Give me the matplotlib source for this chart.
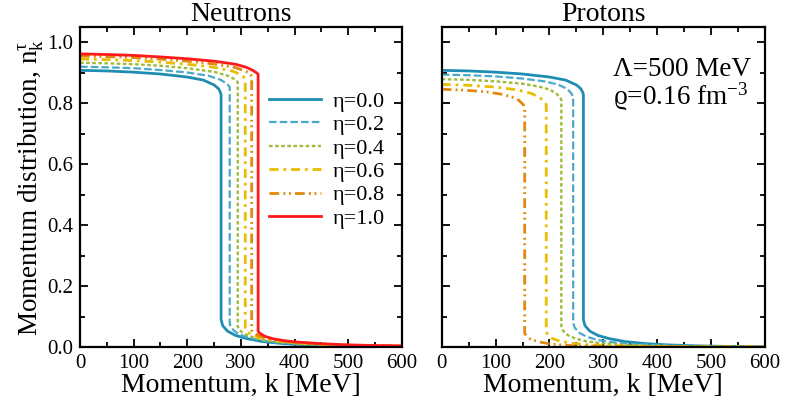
import matplotlib
matplotlib.use("Agg")
import matplotlib.pyplot as plt

plt.rcParams['font.family'] = ['Liberation Serif', 'DejaVu Serif']
plt.rcParams['mathtext.fontset'] = 'custom'
plt.rcParams['mathtext.rm'] = 'Liberation Serif'
plt.rcParams['mathtext.it'] = 'Liberation Serif:italic'
plt.rcParams['lines.scale_dashes'] = False

etas = ["0.0", "0.2", "0.4", "0.6", "0.8", "1.0"]

# Neutrons
kn_00 = [0, 50, 100, 150, 200, 230, 250, 258, 262, 263, 263, 266, 275, 290, 310, 340, 380, 420, 470, 530, 600]
nn_00 = [0.908, 0.906, 0.902, 0.896, 0.886, 0.876, 0.860, 0.848, 0.835, 0.826, 0.089, 0.070, 0.052, 0.038, 0.028, 0.018, 0.011, 0.007, 0.004, 0.002, 0.001]
kn_02 = [0, 50, 100, 150, 200, 240, 262, 272, 277, 279, 279, 282, 292, 306, 325, 355, 395, 440, 490, 545, 600]
nn_02 = [0.920, 0.918, 0.915, 0.909, 0.901, 0.890, 0.877, 0.866, 0.858, 0.852, 0.076, 0.062, 0.047, 0.035, 0.026, 0.017, 0.011, 0.007, 0.004, 0.003, 0.002]
kn_04 = [0, 50, 100, 150, 200, 250, 276, 287, 292, 294, 294, 297, 306, 320, 340, 370, 410, 455, 505, 555, 600]
nn_04 = [0.933, 0.931, 0.928, 0.923, 0.915, 0.903, 0.890, 0.880, 0.873, 0.868, 0.067, 0.056, 0.043, 0.033, 0.024, 0.016, 0.011, 0.007, 0.004, 0.003, 0.002]
kn_06 = [0, 50, 100, 150, 200, 250, 285, 300, 305, 308, 308, 311, 320, 334, 354, 384, 420, 465, 515, 560, 600]
nn_06 = [0.945, 0.943, 0.940, 0.935, 0.928, 0.918, 0.905, 0.893, 0.886, 0.880, 0.060, 0.051, 0.040, 0.031, 0.023, 0.016, 0.011, 0.007, 0.005, 0.003, 0.003]
kn_08 = [0, 50, 100, 150, 200, 250, 290, 310, 317, 320, 320, 323, 332, 346, 366, 395, 430, 475, 520, 565, 600]
nn_08 = [0.955, 0.953, 0.950, 0.945, 0.938, 0.929, 0.917, 0.904, 0.895, 0.889, 0.055, 0.048, 0.038, 0.030, 0.023, 0.016, 0.012, 0.008, 0.005, 0.004, 0.003]
kn_10 = [0, 50, 100, 150, 200, 250, 290, 310, 322, 329, 332, 332, 335, 345, 360, 380, 400, 450, 500, 550, 600]
nn_10 = [0.962, 0.960, 0.957, 0.952, 0.946, 0.938, 0.928, 0.918, 0.908, 0.900, 0.895, 0.052, 0.045, 0.035, 0.027, 0.021, 0.017, 0.011, 0.007, 0.005, 0.004]

# Protons
kp_00 = kn_00
np_00 = nn_00
kp_02 = [0, 50, 100, 150, 190, 215, 232, 240, 243, 244, 244, 247, 256, 270, 290, 320, 360, 410, 470, 530, 600]
np_02 = [0.894, 0.892, 0.888, 0.881, 0.872, 0.862, 0.848, 0.834, 0.824, 0.815, 0.079, 0.063, 0.046, 0.033, 0.023, 0.015, 0.009, 0.006, 0.003, 0.002, 0.001]
kp_04 = [0, 50, 100, 150, 180, 200, 212, 218, 221, 222, 222, 225, 234, 248, 268, 298, 340, 390, 450, 520, 600]
np_04 = [0.879, 0.877, 0.872, 0.864, 0.855, 0.845, 0.833, 0.822, 0.815, 0.810, 0.069, 0.054, 0.039, 0.028, 0.019, 0.012, 0.007, 0.004, 0.002, 0.001, 0.001]
kp_06 = [0, 50, 100, 140, 165, 180, 188, 192, 194, 194, 197, 205, 218, 238, 265, 300, 350, 420, 500, 600]
np_06 = [0.862, 0.859, 0.853, 0.844, 0.833, 0.821, 0.810, 0.801, 0.795, 0.050, 0.039, 0.028, 0.020, 0.013, 0.008, 0.005, 0.003, 0.002, 0.001, 0.001]
kp_08 = [0, 40, 80, 110, 130, 143, 149, 152, 154, 154, 157, 165, 178, 198, 225, 260, 310, 380, 460, 600]
np_08 = [0.846, 0.843, 0.838, 0.830, 0.821, 0.810, 0.800, 0.794, 0.790, 0.046, 0.036, 0.026, 0.018, 0.011, 0.006, 0.003, 0.002, 0.001, 0.0005, 0.0002]

neutrons = [(kn_00, nn_00), (kn_02, nn_02), (kn_04, nn_04), (kn_06, nn_06), (kn_08, nn_08), (kn_10, nn_10)]
protons = [(kp_00, np_00), (kp_02, np_02), (kp_04, np_04), (kp_06, np_06), (kp_08, np_08)]

colors = ["#1f8db3", "#4aa9cb", "#9fbb3c", "#e9bd00", "#e2880e", "#ff1a1a"]
styles = ["-", (0, (5.5, 2.2)), (0, (2.6, 1.8)), (0, (6.5, 3.5, 2.0, 3.5)),
          (0, (7.0, 3.0, 1.4, 2.6, 1.4, 3.0)), "-"]
widths = [2.0, 1.6, 1.7, 2.0, 2.0, 2.0]

fig = plt.figure(figsize=(7.85, 4.04), dpi=100)
axL = fig.add_axes([0.1019, 0.141, 0.4101, 0.792])
axR = fig.add_axes([0.5627, 0.141, 0.4118, 0.792])

for i, (k, n) in enumerate(neutrons):
    axL.plot(k, n, color=colors[i], linestyle=styles[i], lw=widths[i], label="η=" + etas[i])
for i, (k, n) in enumerate(protons):
    axR.plot(k, n, color=colors[i], linestyle=styles[i], lw=widths[i])

for ax in (axL, axR):
    ax.set_xlim(0, 600)
    ax.set_ylim(0, 1.05)
    ax.set_xticks([0, 100, 200, 300, 400, 500, 600])
    ax.set_xticks(range(50, 600, 100), minor=True)
    ax.set_yticks([0.0, 0.2, 0.4, 0.6, 0.8, 1.0])
    ax.set_yticks([0.1, 0.3, 0.5, 0.7, 0.9], minor=True)
    ax.tick_params(which='both', direction='in', top=True, right=True, width=1.3, labelsize=15, colors='black')
    ax.tick_params(which='major', length=5.5, pad=5)
    ax.tick_params(which='minor', length=3.5)
    for s in ax.spines.values():
        s.set_linewidth(1.6)
    ax.set_xlabel("Momentum, k [MeV]", fontsize=20, labelpad=0)

axL.set_yticklabels(["0.0", "0.2", "0.4", "0.6", "0.8", "1.0"])
axR.set_yticklabels([])
axL.set_ylabel("Momentum distribution, n$_{\\mathrm{k}}^{\\mathrm{τ}}$", fontsize=19.5, labelpad=1)
axL.set_title("Neutrons", fontsize=20, pad=2)
axR.set_title("Protons", fontsize=20, pad=2)

axL.legend(loc='upper left', bbox_to_anchor=(0.587, 0.80), frameon=False, fontsize=16,
           borderpad=0, borderaxespad=0, handlelength=2.35, handletextpad=0.5, labelspacing=0.13)

axR.text(0.53, 0.905, "Λ=500 MeV\nϱ=0.16 fm$^{\\mathrm{-3}}$", transform=axR.transAxes,
         fontsize=19.5, ha='left', va='top', linespacing=0.9)

fig.savefig("out.png", dpi=100)
